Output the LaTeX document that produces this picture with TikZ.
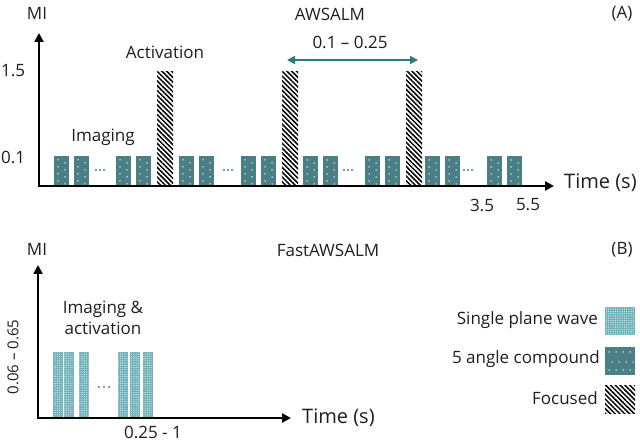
\documentclass[tikz,border=0pt]{standalone}
\usepackage{fontspec}
\setmainfont{Open Sans}
\usetikzlibrary{arrows.meta,patterns.meta}
\definecolor{my teal}{HTML}{4A7F85}
\definecolor{my light teal}{HTML}{6BAFB6}
\definecolor{my arrow}{HTML}{2C7A7C}
\definecolor{my text}{HTML}{1E1E1E}

\begin{document}
\begin{tikzpicture}[x=1pt, y=-1pt, font=\fontsize{17}{21}\selectfont,
    axis/.style={line width=2.6pt, line join=miter, {Triangle[length=9pt,width=9pt]}-{Triangle[length=9pt,width=9pt]}},
    lbl/.style={text=my text, inner sep=0pt},
    axlbl/.style={lbl, font=\fontsize{20}{24}\selectfont},
    compound/.style={fill=my teal},
    focused/.style={pattern={Lines[angle=-45,distance=3.4pt,line width=1.5pt]}, pattern color=black},
    planewave/.style={fill=my light teal, postaction={pattern={Dots[distance=1.8pt,radius=0.45pt]}, pattern color=white}},
    swatch/.style={inner sep=0pt, minimum width=30pt, minimum height=28pt}]
    \useasboundingbox (0,0) rectangle (640,443);

    % (A) AWSALM
    \coordinate (oA) at (39,186);
    \coordinate (yA) at (39,33);
    \coordinate (xA) at (554,186);
    \draw [axis] (yA) -- (oA) -- (xA);
    \node [lbl] (miA) at (37,13) {MI};
    \node [lbl] (titleA) at (330,14) {AWSALM};
    \node [lbl] (tagA) at (622,14) {(A)};
    \node [lbl, anchor=west] (hiA) at (1,71) {1.5};
    \node [lbl, anchor=west] (loA) at (1,157) {0.1};
    \node [lbl] (act) at (165,52) {Activation};
    \node [lbl] (img) at (103,137) {Imaging};
    \node [axlbl, anchor=west] (timeA) at (564,183) {Time (s)};
    \node [lbl] (tA) at (482,205) {3.5};
    \node [lbl] (tB) at (528,205) {5.5};

    \foreach \x in {54,74,116,136,179,199,241,261,303,323,365,385,425,445,487,507} {
        \fill [compound] (\x,156) rectangle ++(15,29);
        \foreach \r in {0,...,3} {
            \fill [white] (\x+4,160+7*\r) circle (0.75pt);
            \fill [white] (\x+11,163+7*\r) circle (0.75pt);
        }
    }
    \foreach \x in {157,282,406}
        \fill [focused] (\x,72) rectangle ++(16,113);
    \foreach \x in {100,228,348,468}
        \foreach \d in {-4,0,4}
            \fill [my teal] (\x+\d,170) circle (1.1pt);

    \coordinate (gapL) at (287,60);
    \coordinate (gapR) at (418,60);
    \draw [my arrow, line width=1.6pt, {Triangle[length=8pt,width=8pt]}-{Triangle[length=8pt,width=8pt]}] (gapL) -- (gapR);
    \node [lbl] (gap) at (350,42) {0.1 – 0.25};

    % (B) FastAWSALM
    \coordinate (oB) at (38,418);
    \coordinate (yB) at (38,265);
    \coordinate (xB) at (291,418);
    \draw [axis] (yB) -- (oB) -- (xB);
    \node [lbl] (miB) at (37,249) {MI};
    \node [lbl] (titleB) at (328,250) {FastAWSALM};
    \node [lbl] (tagB) at (622,250) {(B)};
    \node [lbl, rotate=90, font=\fontsize{15}{18}\selectfont] (rangeB) at (13,357) {0.06 – 0.65};
    \node [lbl, align=center] (imgact) at (103,318) {Imaging \&\\activation};
    \node [axlbl, anchor=west] (timeB) at (302,418) {Time (s)};
    \node [lbl] (durB) at (153,432) {0.25 - 1};

    \foreach \x in {53,64,79,118,130,143}
        \fill [planewave] (\x,352) rectangle ++(9.5,65);
    \foreach \d in {-5,0,5}
        \fill [my teal] (104+\d,387) circle (1.1pt);

    % legend
    \node [lbl, anchor=east] (lgPW) at (598,320) {Single plane wave};
    \node [lbl, anchor=east] (lgCP) at (600,359) {5 angle compound};
    \node [lbl, anchor=east] (lgFC) at (598,398) {Focused};
    \node [swatch, planewave] (swPW) at (620,321) {};
    \node [swatch, compound] (swCP) at (620,361) {};
    \node [swatch, focused] (swFC) at (620,400) {};
    \foreach \i in {0,...,3} {
        \fill [white] (609+7*\i,352) circle (0.75pt);
        \fill [white] (612+7*\i,362) circle (0.75pt);
        \fill [white] (609+7*\i,370) circle (0.75pt);
    }
\end{tikzpicture}
\end{document}
